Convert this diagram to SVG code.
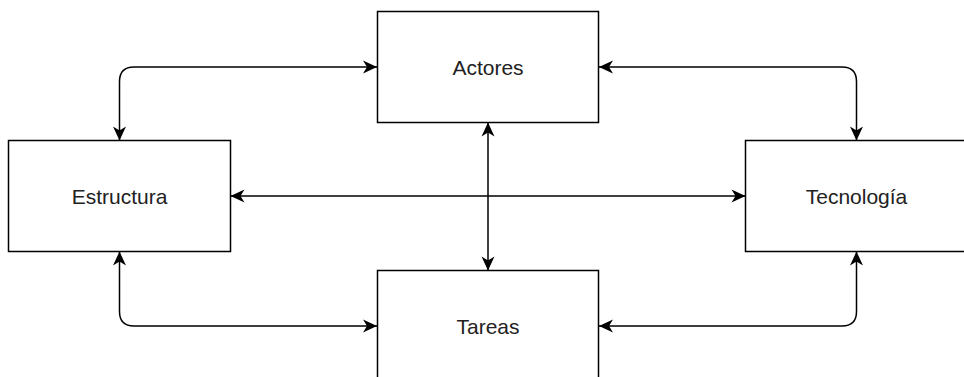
<svg xmlns="http://www.w3.org/2000/svg" width="964" height="377" viewBox="0 0 964 377">
<style>
.box{fill:#fff;stroke:#000;stroke-width:1.5}
.lbl{font-family:"Liberation Sans",Arial,sans-serif;font-size:21px;fill:#222;text-anchor:middle}
.con{fill:none;stroke:#000;stroke-width:1.5;marker-start:url(#arr);marker-end:url(#arr)}
</style>
<defs>
<marker id="arr" markerUnits="userSpaceOnUse" viewBox="-15 -8 16 16" refX="0" refY="0" markerWidth="16" markerHeight="16" orient="auto-start-reverse">
<path d="M0,0 L-14,-6.5 L-10,0 L-14,6.5 Z" fill="#000"/>
</marker>
</defs>
<rect width="964" height="377" fill="#fff"/>
<g id="connectors">
<path class="con" d="M119.5 140.5 V81.5 Q119.5 67 134 67 H377"/>
<path class="con" d="M856.5 140.5 V81.5 Q856.5 67 842 67 H599"/>
<path class="con" d="M119.5 251.5 V311.5 Q119.5 326 134 326 H377"/>
<path class="con" d="M856.5 251.5 V311.5 Q856.5 326 842 326 H599"/>
<path class="con" d="M230.5 196 H745.5"/>
<path class="con" d="M488 122.5 V270.5"/>
</g>
<g id="actores"><rect class="box" x="377.5" y="11.5" width="221" height="111"/><text class="lbl" x="488" y="75">Actores</text></g>
<g id="estructura"><rect class="box" x="8.5" y="140.5" width="222" height="111"/><text class="lbl" x="119.5" y="204">Estructura</text></g>
<g id="tecnologia"><rect class="box" x="745.5" y="140.5" width="222" height="111"/><text class="lbl" x="856.5" y="204">Tecnología</text></g>
<g id="tareas"><rect class="box" x="377.5" y="270.5" width="221" height="111"/><text class="lbl" x="488" y="334">Tareas</text></g>
</svg>
